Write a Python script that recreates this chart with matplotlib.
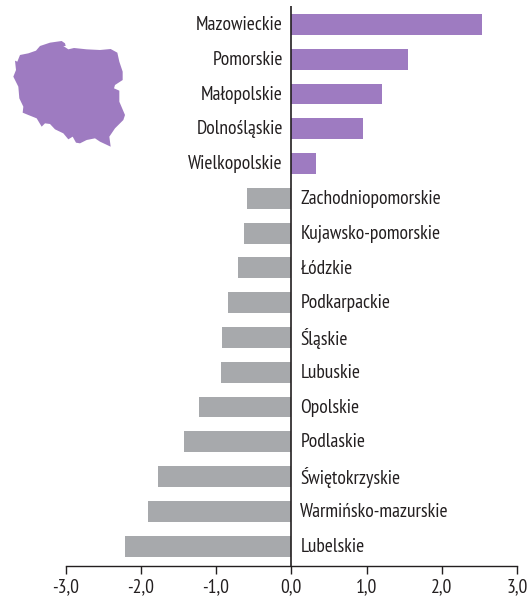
import matplotlib
matplotlib.use('Agg')
import matplotlib.pyplot as plt
from matplotlib.patches import Polygon
from matplotlib import font_manager as fm

regions = ['Mazowieckie','Pomorskie','Małopolskie','Dolnośląskie','Wielkopolskie','Zachodniopomorskie',
           'Kujawsko-pomorskie','Łódzkie','Podkarpackie','Śląskie','Lubuskie','Opolskie','Podlaskie',
           'Świętokrzyskie','Warmińsko-mazurskie','Lubelskie']
values = [2.53,1.55,1.2,0.96,0.33,-0.59,-0.63,-0.71,-0.84,-0.92,-0.93,-1.23,-1.43,-1.77,-1.91,-2.21]
ticks = [-3,-2,-1,0,1,2,3]
tick_labels = ['-3,0','-2,0','-1,0','0,0','1,0','2,0','3,0']
map_outline = [(45,122),(52,125),(60,105),(85,100),(108,92),(120,78),(150,68),(185,63),(195,70),(197,78),(190,78),
 (205,88),(222,84),(260,88),(300,90),(332,87),(352,98),(358,125),(368,155),(368,180),(345,195),(342,205),(358,212),
 (358,245),(375,285),(370,300),(345,325),(328,350),(332,380),(300,365),(285,355),(260,360),(240,370),(228,368),
 (218,350),(205,358),(190,340),(165,328),(150,312),(135,310),(125,320),(110,295),(85,285),(68,278),(70,260),
 (58,235),(55,200),(40,170),(48,150)]

names = {f.name for f in fm.fontManager.ttflist}
family = 'PT Sans Narrow' if 'PT Sans Narrow' in names else 'Liberation Sans'
plt.rcParams['font.family'] = [family, 'DejaVu Sans']
PURPLE, GRAY, DARK = '#9E7BC1', '#A7A9AC', '#231F20'
W, H = 532, 598
fig = plt.figure(figsize=(W/100, H/100), dpi=100)
ax = fig.add_axes([65.5/W, 1-566/H, (517-65.5)/W, (566-6)/H])
y = list(range(len(regions)))
ax.barh(y, values, height=0.6, color=[PURPLE if v > 0 else GRAY for v in values])
ax.set_xlim(-3, 3)
ax.set_ylim(len(regions)-1+0.57, -0.53)
for s in ['top','left','right']:
    ax.spines[s].set_visible(False)
ax.spines['bottom'].set_color(DARK)
ax.spines['bottom'].set_linewidth(1)
ax.axvline(0, color=DARK, lw=1.2, zorder=3)
ax.set_yticks([])
ax.set_xticks(ticks)
ax.set_xticklabels(tick_labels, fontsize=14, color=DARK)
ax.tick_params(axis='x', length=6, width=1, color=DARK, pad=3)
for yi, name, v in zip(y, regions, values):
    if v > 0:
        ax.annotate(name, (0, yi), xytext=(-6, 1), textcoords='offset points', ha='right', va='center_baseline', fontsize=14, color=DARK)
    else:
        ax.annotate(name, (0, yi), xytext=(6.5, 1), textcoords='offset points', ha='left', va='center_baseline', fontsize=14, color=DARK)
pts = [((px/3)/W, 1-(py/3+20)/H) for px, py in map_outline]
fig.add_artist(Polygon(pts, closed=True, transform=fig.transFigure, facecolor=PURPLE, edgecolor='none'))
fig.savefig('out.png', dpi=100)
